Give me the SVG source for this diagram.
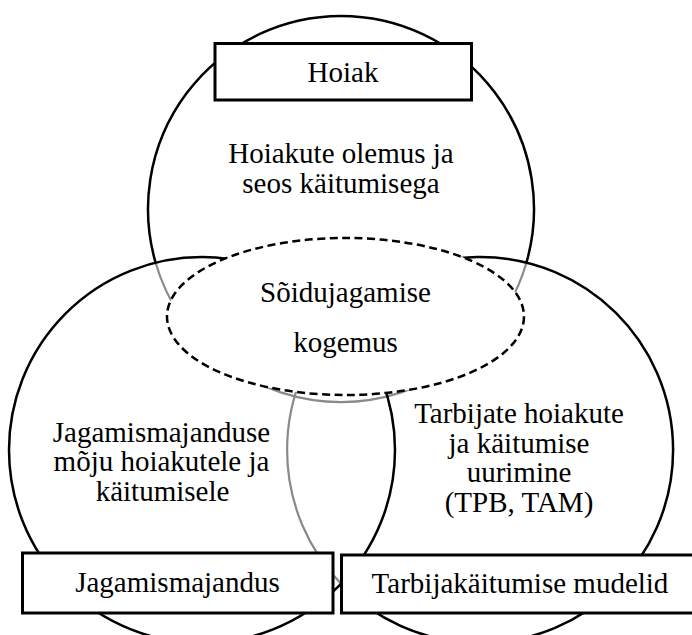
<svg xmlns="http://www.w3.org/2000/svg" width="692" height="635" viewBox="0 0 692 635">
  <style>
    .txt { font-size: 29px; fill: #000; text-anchor: middle; }
    .ring { fill: none; stroke: #000; stroke-width: 2.5; }
    .ring-faint { fill: none; stroke: #8a8a8a; stroke-width: 2.2; }
    .box { fill: #fff; stroke: #000; stroke-width: 3; }
    .core { fill: #fff; stroke: #000; stroke-width: 2.5; stroke-dasharray: 8 4.5; }
  </style>
  <rect width="692" height="635" fill="#fff"/>

  <!-- circle outlines; arcs lying inside another circle are drawn in grey -->
  <g id="connectors">
    <!-- Hoiak circle: centre (341,209), r 193 -->
    <path class="ring-faint" d="M526.4,262.7 A193,193 0 0 1 155.6,262.7"/>
    <!-- Tarbijakäitumise circle: centre (480,450), r 193 -->
    <path class="ring-faint" d="M341,316.2 A193,193 0 0 0 341,583.8"/>
    <path class="ring" d="M155.6,262.7 A193,193 0 1 1 526.4,262.7"/>
    <path class="ring" d="M341,583.8 A193,193 0 1 0 341,316.2"/>
    <!-- Jagamismajanduse circle: centre (202,450), r 193 -->
    <circle class="ring" cx="202" cy="450" r="193"/>
  </g>

  <g font-family="'Liberation Serif', Tinos, 'Times New Roman', 'DejaVu Serif', serif">
    <g id="node-hoiak-circle">
      <text class="txt" x="341" y="163">Hoiakute olemus ja</text>
      <text class="txt" x="341" y="193">seos käitumisega</text>
    </g>

    <g id="node-jagamis-circle">
      <text class="txt" x="161.5" y="441.5">Jagamismajanduse</text>
      <text class="txt" x="161.5" y="471">mõju hoiakutele ja</text>
      <text class="txt" x="162.5" y="500.5">käitumisele</text>
    </g>

    <g id="node-tarbija-circle">
      <text class="txt" x="519" y="423">Tarbijate hoiakute</text>
      <text class="txt" x="519" y="452.5">ja käitumise</text>
      <text class="txt" x="519" y="482">uurimine</text>
      <text class="txt" x="519" y="511.5">(TPB, TAM)</text>
    </g>

    <g id="node-kogemus">
      <ellipse class="core" cx="345.5" cy="316.5" rx="178.5" ry="78.5"/>
      <text class="txt" x="345.5" y="302">Sõidujagamise</text>
      <text class="txt" x="345.5" y="352">kogemus</text>
    </g>

    <g id="node-hoiak">
      <rect class="box" x="215" y="43.5" width="256.5" height="56.5"/>
      <text class="txt" x="343" y="82">Hoiak</text>
    </g>

    <g id="node-jagamismajandus">
      <rect class="box" x="22.5" y="553" width="310.5" height="60"/>
      <text class="txt" x="177.5" y="592">Jagamismajandus</text>
    </g>

    <g id="node-tarbijakaitumise">
      <rect class="box" x="341.5" y="555" width="360" height="58"/>
      <text class="txt" x="520" y="593">Tarbijakäitumise mudelid</text>
    </g>
  </g>
</svg>
